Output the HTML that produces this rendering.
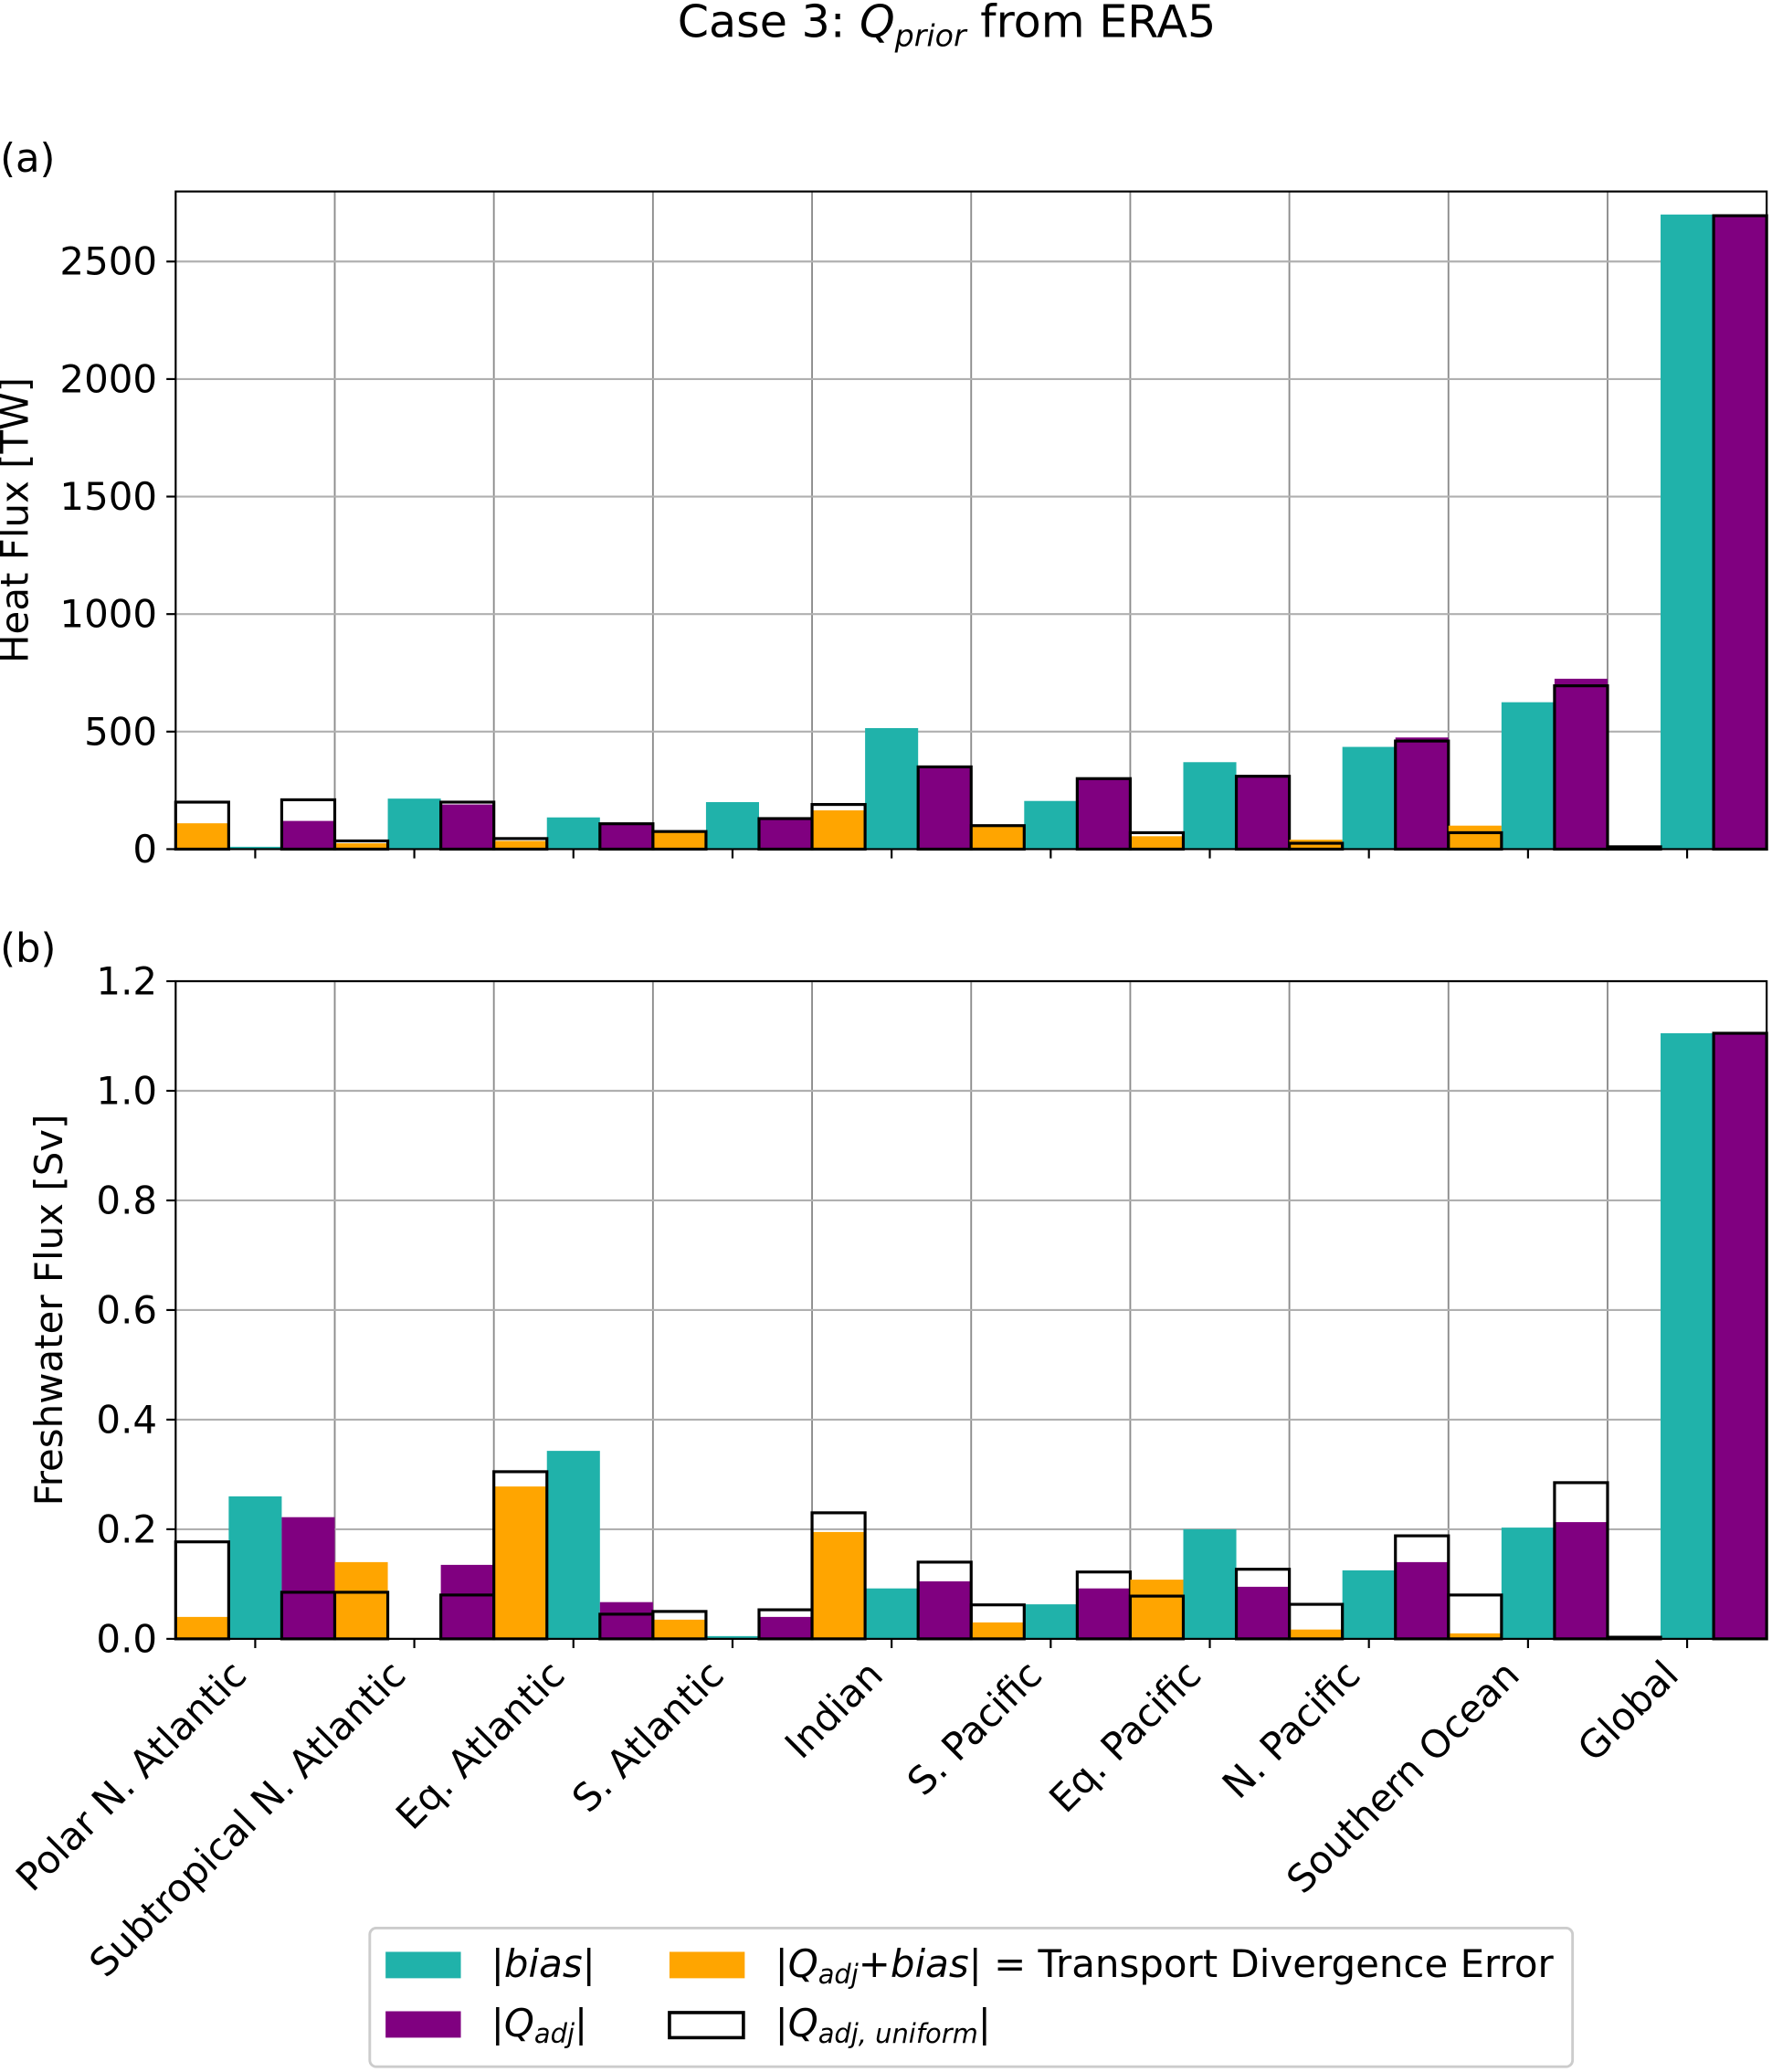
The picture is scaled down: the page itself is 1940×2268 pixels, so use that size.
<!DOCTYPE html>
<html><head><meta charset="utf-8"><style>
html,body{margin:0;padding:0;background:#fff;}
svg{display:block;font-family:"DejaVu Sans","Liberation Sans",sans-serif;}
</style></head><body>
<svg id="chart" width="1940" height="2268" viewBox="0 0 1342 1569" xmlns="http://www.w3.org/2000/svg">
<text x="717" y="28" font-size="34" text-anchor="middle">Case 3: <tspan font-style="italic">Q</tspan><tspan font-style="italic" font-size="23" dy="7">prior</tspan><tspan dy="-7"> from ERA5</tspan></text>
<text x="0" y="130" font-size="30">(a)</text>
<text x="0" y="728" font-size="30">(b)</text>
<g id="pa"></g><g id="pb"></g>
<text transform="translate(21,394) rotate(-90)" font-size="29" text-anchor="middle">Heat Flux [TW]</text>
<text transform="translate(47,992) rotate(-90)" font-size="29" text-anchor="middle">Freshwater Flux [Sv]</text>
<g id="xl"></g>
<g>
<rect x="280" y="1460" width="911" height="105" rx="5" fill="#fff" stroke="#ccc" stroke-width="2"/>
<rect x="292" y="1478" width="57" height="20" fill="#20b2aa"/>
<text x="372" y="1497" font-size="29">|<tspan font-style="italic">bias</tspan>|</text>
<rect x="292" y="1523" width="57" height="20" fill="#800080"/>
<text x="372" y="1542" font-size="29">|<tspan font-style="italic">Q</tspan><tspan font-style="italic" font-size="20" dy="5">adj</tspan><tspan dy="-5">|</tspan></text>
<rect x="507" y="1478" width="57" height="20" fill="#ffa500"/>
<text x="587" y="1497" font-size="29">|<tspan font-style="italic">Q</tspan><tspan font-style="italic" font-size="20" dy="5">adj</tspan><tspan dy="-5">+</tspan><tspan font-style="italic">bias</tspan>| = Transport Divergence Error</text>
<rect x="507" y="1524" width="56" height="19" fill="none" stroke="#000" stroke-width="2.5"/>
<text x="587" y="1542" font-size="29">|<tspan font-style="italic">Q</tspan><tspan font-style="italic" font-size="20" dy="5">adj, uniform</tspan><tspan dy="-5">|</tspan></text>
</g>
</svg>
<script>
const categories=["Polar N. Atlantic","Subtropical N. Atlantic","Eq. Atlantic","S. Atlantic","Indian","S. Pacific","Eq. Pacific","N. Pacific","Southern Ocean","Global"];
const heatOrange=[110,25,35,70,165,95,55,40,100,0];
const heatOrangeUniform=[200,35,45,75,190,100,70,25,70,10];
const heatBias=[10,215,135,200,515,205,370,435,625,2700];
const heatQadj=[120,190,105,125,345,305,315,475,725,2700];
const heatQadjUniform=[210,200,108,130,350,300,310,460,695,2695];
const heatTicks=[0,500,1000,1500,2000,2500];
const fwOrange=[0.04,0.14,0.278,0.035,0.195,0.03,0.108,0.017,0.01,0];
const fwOrangeUniform=[0.177,0.085,0.305,0.05,0.23,0.062,0.078,0.063,0.08,0.003];
const fwBias=[0.26,0,0.343,0.005,0.092,0.063,0.2,0.125,0.203,1.105];
const fwQadj=[0.222,0.135,0.067,0.04,0.105,0.092,0.095,0.14,0.213,1.105];
const fwQadjUniform=[0.085,0.08,0.045,0.053,0.14,0.122,0.127,0.188,0.285,1.105];
const fwTicks=[0,0.2,0.4,0.6,0.8,1.0,1.2];
const NS="http://www.w3.org/2000/svg";
function mk(p,t,a){const e=document.createElementNS(NS,t);for(const k in a)e.setAttribute(k,a[k]);p.appendChild(e);return e;}
const X0=133,X1=1338,step=(X1-X0)/10;
const xc=i=>X0+step*(i+0.5);
function panel(g,top,bot,ymax,ticks,fmt,o,ou,b,q,qu,nm){
 const y=v=>bot-(v/ymax)*(bot-top);
 for(let i=1;i<10;i++){const l=mk(g,'line',{x1:X0+step*i,x2:X0+step*i,y1:top,y2:bot,stroke:'#8c8c8c','stroke-width':1.3});
 }
 ticks.forEach(t=>{const l=mk(g,'line',{x1:X0,x2:X1,y1:y(t),y2:y(t),stroke:'#b0b0b0','stroke-width':1.5});
 
 mk(g,'line',{x1:X0-7,x2:X0,y1:y(t),y2:y(t),stroke:'#000','stroke-width':1.5});
 const tx=mk(g,'text',{x:X0-14,y:y(t)+10,'font-size':29,'text-anchor':'end'});tx.textContent=fmt(t);
 });
 const w=step/3;
 function bar(i,off,v,fill,name){const r=mk(g,'rect',{x:xc(i)+off,y:y(v),width:w,height:bot-y(v),fill:fill});
 }
 function box(i,off,v,name){const r=mk(g,'rect',{x:xc(i)+off,y:y(v),width:w,height:bot-y(v),fill:'none',stroke:'#000','stroke-width':2.2});
 }
 categories.forEach((c,i)=>{bar(i,-1.5*w,o[i],'#ffa500',nm+'-error-bar');bar(i,-0.5*w,b[i],'#20b2aa',nm+'-bias-bar');bar(i,0.5*w,q[i],'#800080',nm+'-qadj-bar');
 box(i,-1.5*w,ou[i],nm+'-error-uniform-outline');box(i,0.5*w,qu[i],nm+'-qadj-uniform-outline');
 mk(g,'line',{x1:xc(i),x2:xc(i),y1:bot,y2:bot+7,stroke:'#000','stroke-width':1.5});});
 const fr=mk(g,'rect',{x:X0,y:top,width:X1-X0,height:bot-top,fill:'none',stroke:'#000','stroke-width':1.5});
 
}
panel(document.getElementById('pa'),145,643,2798,heatTicks,t=>String(t),heatOrange,heatOrangeUniform,heatBias,heatQadj,heatQadjUniform,'heat');
panel(document.getElementById('pb'),743,1241,1.2,fwTicks,t=>t.toFixed(1),fwOrange,fwOrangeUniform,fwBias,fwQadj,fwQadjUniform,'freshwater');
const xl=document.getElementById('xl');
categories.forEach((c,i)=>{const t=mk(xl,'text',{transform:`translate(${xc(i)-5},1270) rotate(-45)`,'font-size':29,'text-anchor':'end'});t.textContent=c;
});
</script>
</body></html>
